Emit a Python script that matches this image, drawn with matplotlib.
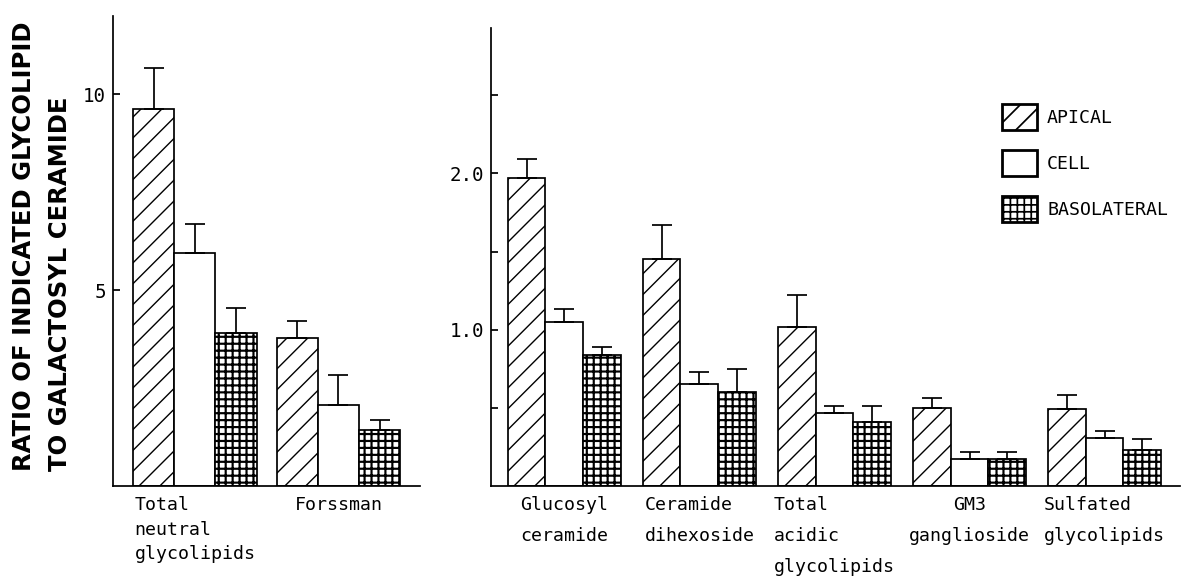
import numpy as np
import matplotlib.pyplot as plt
from matplotlib.patches import Patch

# Values (ratio to galactosyl ceramide), error = upper SEM bar
left_groups = ['Total\nneutral\nglycolipids', 'Forssman']
left_apical = [9.62, 3.77]
left_apical_err = [1.04, 0.45]
left_cell = [5.94, 2.06]
left_cell_err = [0.76, 0.78]
left_baso = [3.91, 1.44]
left_baso_err = [0.64, 0.24]

right_groups = ['Glucosyl\nceramide', 'Ceramide\ndihexoside', 'Total\nacidic\nglycolipids',
                'GM3\nganglioside', 'Sulfated\nglycolipids']
right_apical = [1.97, 1.45, 1.02, 0.50, 0.49]
right_apical_err = [0.12, 0.22, 0.20, 0.06, 0.09]
right_cell = [1.05, 0.65, 0.47, 0.175, 0.31]
right_cell_err = [0.08, 0.08, 0.04, 0.045, 0.04]
right_baso = [0.84, 0.60, 0.41, 0.175, 0.23]
right_baso_err = [0.05, 0.15, 0.10, 0.045, 0.07]

series_names = ['APICAL', 'CELL', 'BASOLATERAL']
hatches = ['//', '', '+++']

mono = 'DejaVu Sans Mono'
W, H = 1183, 584
fig = plt.figure(figsize=(W / 125, H / 125), dpi=125)


def hatch_lw(patch):
    if hasattr(patch, 'set_hatch_linewidth'):
        patch.set_hatch_linewidth(1.25 if patch.get_hatch() == '+++' else 0.8)


def draw_panel(ax, groups, series, errs, width, capsize):
    x = np.arange(len(groups))
    for k, (vals, err, hatch) in enumerate(zip(series, errs, hatches)):
        pos = x + (k - 1) * width
        bars = ax.bar(pos, vals, width, facecolor='white', edgecolor='black',
                      linewidth=1.0, hatch=hatch, zorder=2)
        for b in bars:
            hatch_lw(b)
        ax.errorbar(pos, vals, yerr=[np.zeros(len(vals)), err], fmt='none',
                    ecolor='black', elinewidth=1.0, capsize=capsize, capthick=1.0, zorder=3)
    for s in ['top', 'right']:
        ax.spines[s].set_visible(False)
    for s in ['left', 'bottom']:
        ax.spines[s].set_linewidth(1.0)
    ax.set_xticks(x, groups)
    ax.tick_params(axis='x', length=0, pad=6)
    ax.tick_params(axis='y', direction='in', length=4, width=1.0, pad=4, labelsize=11)
    ax.tick_params(axis='y', which='minor', direction='in', length=4, width=1.0)
    for lab in ax.get_xticklabels() + ax.get_yticklabels():
        lab.set_family(mono)
    return x


# left panel
axl = fig.add_axes([113 / W, 1 - 486 / H, 307 / W, 470 / H])
draw_panel(axl, left_groups, [left_apical, left_cell, left_baso],
           [left_apical_err, left_cell_err, left_baso_err], 0.286, 6)
axl.set_xlim(-0.571, 1.568)
axl.set_ylim(0, 12)
axl.set_yticks([5, 10], ['5', '10'])
for lab in axl.get_xticklabels():
    lab.set_fontsize(10.5)
    lab.set_multialignment('left')
    lab.set_linespacing(1.45)

# right panel
axr = fig.add_axes([491 / W, 1 - 486 / H, 689 / W, 458 / H])
draw_panel(axr, right_groups, [right_apical, right_cell, right_baso],
           [right_apical_err, right_cell_err, right_baso_err], 0.281, 5.5)
axr.set_xlim(-0.544, 4.559)
axr.set_ylim(0, 2.93)
axr.set_yticks([1.0, 2.0], ['1.0', '2.0'])
axr.set_yticks([0.5, 1.5, 2.5], minor=True)
for i, lab in enumerate(axr.get_xticklabels()):
    lab.set_fontsize(10.5)
    lab.set_multialignment('center' if i == 3 else 'left')
    lab.set_linespacing(1.9)

# y label, two lines
fig.text(24 / W, 1 - 471 / H, 'RATIO OF INDICATED GLYCOLIPID', rotation=90,
         ha='center', va='bottom', fontsize=14, fontweight='bold', family='DejaVu Sans')
fig.text(60 / W, 1 - 471 / H, 'TO GALACTOSYL CERAMIDE', rotation=90,
         ha='center', va='bottom', fontsize=14, fontweight='bold', family='DejaVu Sans')

# legend
handles = [Patch(facecolor='white', edgecolor='black', hatch=h, linewidth=1.6) for h in hatches]
for h in handles:
    hatch_lw(h)
fig.legend(handles, series_names, loc='upper left', bbox_to_anchor=(1002 / W, 1 - 104 / H),
           frameon=False, borderpad=0, borderaxespad=0, handlelength=1.92, handleheight=1.81,
           labelspacing=1.1, handletextpad=0.55, prop={'family': mono, 'size': 10.5})

fig.savefig('out.png', dpi=125)
